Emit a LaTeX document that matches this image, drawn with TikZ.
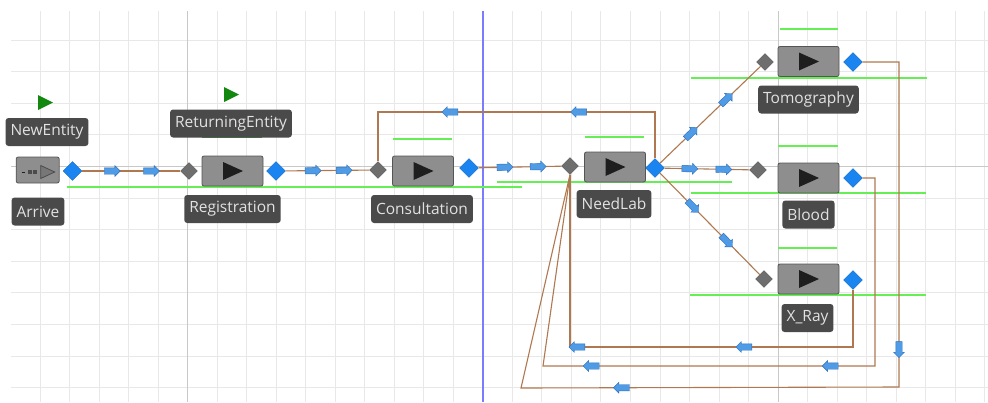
\documentclass[tikz,border=0pt]{standalone}
\usepackage{fontspec}
\newfontfamily\labelfont{Open Sans}
\usetikzlibrary{shapes.geometric,shapes.arrows}
\definecolor{gridgray}{HTML}{E8E8E8}
\definecolor{axisgray}{HTML}{C8C8C8}
\definecolor{viewblue}{HTML}{7B7BFF}
\definecolor{servfill}{HTML}{8E8E8E}
\definecolor{servedge}{HTML}{555555}
\definecolor{playblack}{HTML}{1E1E1E}
\definecolor{lblfill}{HTML}{4A4A4A}
\definecolor{lbltext}{HTML}{E2E2E2}
\definecolor{outblue}{HTML}{1A85F0}
\definecolor{ingray}{HTML}{6E6E6E}
\definecolor{linkbrown}{HTML}{B07850}
\definecolor{queuegreen}{HTML}{66EE55}
\definecolor{entgreen}{HTML}{12880F}
\definecolor{flowblue}{HTML}{4F9BE6}
\definecolor{flowedge}{HTML}{2F70BA}
\tikzset{
  server/.style={draw=servedge, fill=servfill, rounded corners=2pt, line width=0.8pt,
    minimum width=61pt, minimum height=30pt, inner sep=0pt,
    path picture={\fill[playblack, sharp corners] ([xshift=-9.5pt,yshift=9pt]path picture bounding box.center)
      -- ++(20pt,-9pt) -- ++(-20pt,-9pt) -- cycle;}},
  source/.style={draw=servedge, fill=servfill, rounded corners=2pt, line width=0.8pt,
    minimum width=43pt, minimum height=26pt, inner sep=0pt,
    path picture={
      \draw[playblack, sharp corners, line width=1pt] ([xshift=-16pt,yshift=-2pt]path picture bounding box.center) -- ++(3.5pt,0pt);
      \fill[playblack!80, sharp corners] ([xshift=-10pt,yshift=-4pt]path picture bounding box.center) rectangle ++(4pt,4pt);
      \fill[playblack!80, sharp corners] ([xshift=-5pt,yshift=-4pt]path picture bounding box.center) rectangle ++(4pt,4pt);
      \filldraw[fill=servfill!120, draw=playblack!80, sharp corners, line width=0.8pt]
        ([xshift=3pt,yshift=4.5pt]path picture bounding box.center) -- ++(14pt,-6.5pt) -- ++(-14pt,-6.5pt) -- cycle;}},
  inport/.style={diamond, fill=ingray, draw=ingray!80!black, minimum size=17pt, inner sep=0pt},
  outport/.style={diamond, fill=outblue, draw=outblue!80!black, minimum size=19pt, inner sep=0pt},
  lbl/.style={fill=lblfill, text=lbltext, rounded corners=3pt, inner xsep=5pt, inner ysep=3pt,
    minimum height=28pt, font=\labelfont\fontsize{15.5}{18}\selectfont},
  link/.style={draw=linkbrown, line width=1.1pt},
  flow/.style={single arrow, fill=flowblue, draw=flowedge, line width=0.4pt, minimum height=16pt,
    inner sep=3pt, single arrow head extend=2.2pt, sloped, allow upside down, anchor=center},
  queue/.style={draw=queuegreen, line width=1.4pt}
}
\begin{document}
\begin{tikzpicture}[x=1pt,y=-1pt]
\useasboundingbox (0,0) rectangle (988,402);
\fill[white] (0,0) rectangle (988,402);
% grid
\foreach \k in {0,...,32} \draw[gridgray, line width=0.8pt] ({40+29.52*\k},11) -- ({40+29.52*\k},402);
\foreach \j in {0,...,11} \draw[gridgray, line width=0.8pt] (11,{40+31.6*\j}) -- (988,{40+31.6*\j});
\draw[axisgray, line width=1pt] (187.6,11) -- (187.6,402);
\draw[axisgray, line width=1pt] (778,11) -- (778,402);
\draw[axisgray, line width=1pt] (11,166.4) -- (988,166.4);
\draw[viewblue, line width=1.5pt] (482.8,11) -- (482.8,402);
% queues
\draw[queue] (67,187) -- (522,187);
\draw[entgreen!80, line width=1.4pt] (202,137) -- (262,137);
\draw[queue] (393,139) -- (452,139);
\draw[queue] (497,182) -- (732,182);
\draw[queue] (585,137) -- (644,137);
\draw[queue] (780,29) -- (838,29);
\draw[queue] (691,78) -- (927,78);
\draw[queue] (778,146) -- (838,146);
\draw[queue] (691,193) -- (926,193);
\draw[queue] (778,248) -- (837,248);
\draw[queue] (690,295) -- (926,295);
% entities
\fill[entgreen] (38,95) -- (53,102.5) -- (38,110) -- cycle;
\fill[entgreen] (224,87) -- (239,94.5) -- (224,102) -- cycle;
% objects
\node[source] (arrive) at (37.7,170) {};
\node[outport] (arriveOut) at (72.5,171) {};
\node[lbl] (arriveLbl) at (38,211.5) {Arrive};
\node[lbl] (newEntity) at (47,132) {NewEntity};
\node[inport] (regIn) at (189,171) {};
\node[server] (reg) at (232.5,171) {};
\node[outport] (regOut) at (276,171) {};
\node[lbl] (regLbl) at (232.5,209) {Registration};
\node[lbl] (returning) at (231,123.5) {ReturningEntity};
\node[inport] (consIn) at (378,170) {};
\node[server] (cons) at (423,171) {};
\node[outport] (consOut) at (469,168) {};
\node[lbl] (consLbl) at (422,209) {Consultation};
\node[inport] (needIn) at (570,166) {};
\node[server] (need) at (615,167) {};
\node[outport] (needOut) at (655,168) {};
\node[lbl] (needLbl) at (614,204) {NeedLab};
\node[inport] (tomoIn) at (765,62) {};
\node[server] (tomo) at (808.5,61.5) {};
\node[outport] (tomoOut) at (853,62) {};
\node[lbl] (tomoLbl) at (808.5,99.5) {Tomography};
\node[inport] (bloodIn) at (758,170) {};
\node[server] (blood) at (808.5,178) {};
\node[outport] (bloodOut) at (853,178) {};
\node[lbl] (bloodLbl) at (808.5,214.5) {Blood};
\node[inport] (xrayIn) at (764,279) {};
\node[server] (xray) at (808.5,279) {};
\node[outport] (xrayOut) at (853,280) {};
\node[lbl] (xrayLbl) at (807.5,318) {X\_Ray};
% paths
\draw[link] (arriveOut) -- node[flow,pos=.29]{} node[flow,pos=.69]{} (regIn);
\draw[link] (regOut) -- node[flow,pos=.31]{} node[flow,pos=.68]{} (consIn);
\draw[link] (consOut) -- node[flow,pos=.30]{} node[flow,pos=.70]{} (needIn);
\draw[link] (needOut.north) -- (655,112) -- node[flow,pos=.27]{} node[flow,pos=.735]{} (378,112) -- (consIn.north);
\draw[link] (needOut) -- node[flow,pos=.3]{} node[flow,pos=.65]{} (tomoIn);
\draw[link] (needOut) -- node[flow,pos=.28]{} node[flow,pos=.68]{} (bloodIn);
\draw[link] (needOut) -- node[flow,pos=.32]{} node[flow,pos=.66]{} (xrayIn);
\draw[link] (tomoOut) -- (899,62) -- node[flow,pos=.88]{} (899,387) -- node[flow,pos=.73]{} (521,388) -- (needIn.south);
\draw[link] (bloodOut) -- (875,178) -- (875,366) -- node[flow,pos=.13]{} node[flow,pos=.85]{} (543,366) -- (needIn.south);
\draw[link] (xrayOut) -- (853,347) -- node[flow,pos=.38]{} node[flow,pos=.97]{} (570,347) -- (needIn.south);
\end{tikzpicture}
\end{document}
